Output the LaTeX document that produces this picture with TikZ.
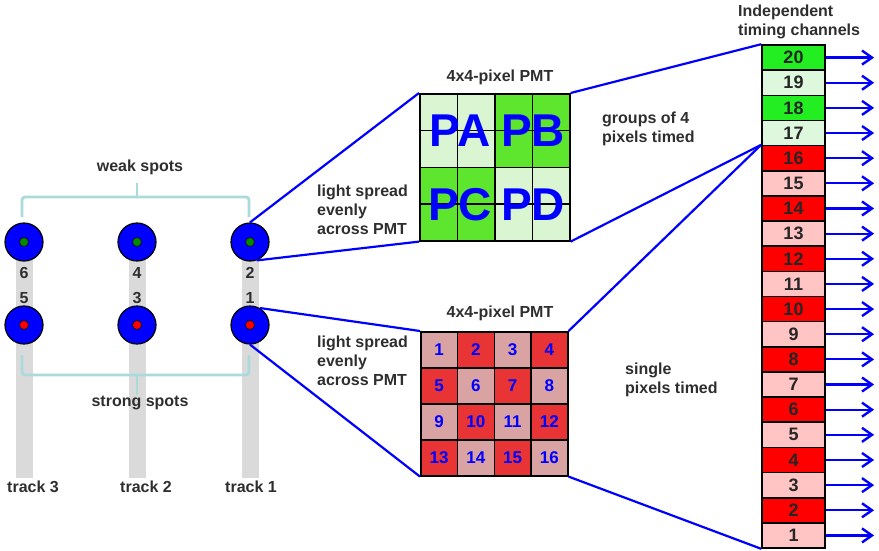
\documentclass[tikz,border=0pt]{standalone}
\usepackage{fontspec}
\setmainfont{Liberation Sans}
\usetikzlibrary{arrows.meta}
\definecolor{txt}{HTML}{2E2E2E}
\definecolor{lgreen}{HTML}{DAF5D2}
\definecolor{mgreen}{HTML}{5EE62E}
\definecolor{cgreen}{HTML}{22EE22}
\definecolor{cgreenl}{HTML}{DDF8DD}
\definecolor{pred}{HTML}{E83434}
\definecolor{ppink}{HTML}{D9A3A3}
\definecolor{cred}{HTML}{FF0000}
\definecolor{cpink}{HTML}{FFC4C4}
\definecolor{bracketc}{HTML}{AADADA}
\definecolor{trackgray}{HTML}{DADADA}
\definecolor{pblue}{HTML}{0000FF}
\definecolor{dotgreen}{HTML}{008C00}
\begin{document}
\begin{tikzpicture}[x=1pt,y=-1pt,
  lbl/.style={font=\bfseries\fontsize{16}{19}\selectfont, text=txt, inner sep=0, align=left},
  spot/.style={circle, draw=black, line width=1.2pt, fill=pblue, minimum size=38pt, inner sep=0},
  dot/.style={circle, draw=black, line width=0.6pt, minimum size=9pt, inner sep=0},
  gcell/.style={draw=black, line width=1.6pt, minimum width=37.5pt, minimum height=36.75pt, inner sep=0, anchor=north west},
  rcell/.style={draw=black, line width=1.6pt, minimum width=36.75pt, minimum height=36pt, inner sep=0, anchor=north west, font=\bfseries\fontsize{17}{17}\selectfont, text=pblue},
  chcell/.style={draw=black, line width=1.6pt, minimum width=63pt, minimum height=25.15pt, inner sep=0, font=\bfseries\fontsize{18}{18}\selectfont, text=black!85},
  big/.style={font=\bfseries\fontsize{46}{46}\selectfont, text=pblue, inner sep=0},
  link/.style={draw=pblue, line width=2.2pt},
  head/.style={draw=pblue, line width=2.4pt, line join=miter, line cap=butt},
  brk/.style={draw=bracketc, line width=2.8pt, rounded corners=3pt}
]
\useasboundingbox (0,0) rectangle (879,550);

% tracks
\foreach \x in {24,137,250} {
  \fill[trackgray] (\x-8.5,240) rectangle (\x+8.5,478);
}

% spots
\node[spot] (w3) at (24,242) {};
\node[spot] (w2) at (137,242) {};
\node[spot] (w1) at (250,242) {};
\node[spot] (s3) at (24,325) {};
\node[spot] (s2) at (137,325) {};
\node[spot] (s1) at (250,325) {};
\foreach \n in {w1,w2,w3} { \node[dot, fill=dotgreen] (d\n) at (\n) {}; }
\foreach \n in {s1,s2,s3} { \node[dot, fill=red] (d\n) at (\n) {}; }

% spot numbers
\node[lbl] (n6) at (24,273) {6};
\node[lbl] (n5) at (24,298) {5};
\node[lbl] (n4) at (137,273) {4};
\node[lbl] (n3) at (137,298) {3};
\node[lbl] (n2) at (250,273) {2};
\node[lbl] (n1) at (250,298) {1};

% brackets
\draw[brk] (22,217) -- (22,197) -- (249,197) -- (249,217);
\draw[brk] (137,197) -- (137,183);
\node[lbl] (weak) at (140,167) {weak spots};
\draw[brk] (22,355) -- (22,375) -- (249,375) -- (249,355);
\draw[brk] (137,375) -- (137,395);
\node[lbl] (strong) at (140,403) {strong spots};

% track labels
\node[lbl] (t3) at (33,487) {track 3};
\node[lbl] (t2) at (146,487) {track 2};
\node[lbl] (t1) at (251,487) {track 1};

% green PMT
\node[lbl] (gtitle) at (500,77) {4x4-pixel PMT};
\foreach \r in {1,...,4} {
  \foreach \c in {1,...,4} {
    \pgfmathtruncatemacro\isg{((\r<=2)&&(\c>=3))||((\r>=3)&&(\c<=2))}
    \ifnum\isg=1 \def\cc{mgreen}\else\def\cc{lgreen}\fi
    \node[gcell, fill=\cc] (g-\r-\c) at ({419+(\c-1)*37.5},{93+(\r-1)*36.75}) {};
  }
}
\node[big] (pa) at (460,131) {PA};
\node[big] (pb) at (533,131) {PB};
\node[big] (pc) at (460,204.5) {PC};
\node[big] (pd) at (533,204.5) {PD};

% red PMT
\node[lbl] (rtitle) at (500,313) {4x4-pixel PMT};
\foreach \r in {1,...,4} {
  \foreach \c in {1,...,4} {
    \pgfmathtruncatemacro\num{(\r-1)*4+\c}
    \pgfmathtruncatemacro\odd{mod(\r+\c,2)}
    \ifnum\odd=1 \def\cc{pred}\else\def\cc{ppink}\fi
    \node[rcell, fill=\cc] (r-\r-\c) at ({420+(\c-1)*36.75},{331+(\r-1)*36}) {\num};
  }
}

% channels
\node[lbl] (chtitle) at (738,21.5) [anchor=west] {Independent\\timing channels};
\foreach \k in {1,...,20} {
  \pgfmathsetmacro\yc{45+(20-\k)*25.15+12.575}
  \pgfmathtruncatemacro\ev{mod(\k,2)}
  \ifnum\k>16
    \ifnum\ev=0 \def\cc{cgreen}\else\def\cc{cgreenl}\fi
  \else
    \ifnum\ev=0 \def\cc{cred}\else\def\cc{cpink}\fi
  \fi
  \node[chcell, fill=\cc] (ch\k) at (793.5,\yc) {\k};
  \coordinate (a\k) at (872,\yc);
  \draw[link] (ch\k.east) -- (a\k);
  \draw[head] (a\k) ++(-10,-7) -- (a\k) -- ++(-10,7);
}

% texts
\node[lbl, anchor=west] (ls1) at (317,210) {light spread\\evenly\\across PMT};
\node[lbl, anchor=west] (ls2) at (317,361) {light spread\\evenly\\across PMT};
\node[lbl, anchor=west] (grp) at (602,128.5) {groups of 4\\pixels timed};
\node[lbl, anchor=west] (sgl) at (625,379.5) {single\\pixels timed};

% links
\draw[link] (w1.north) -- (g-1-1.north west);
\draw[link] (w1.-70) -- (g-4-1.south west);
\draw[link] (s1.60) -- (r-1-1.north west);
\draw[link] (s1.south) -- (r-4-1.south west);
\draw[link] (g-1-4.north east) -- (ch20.north west);
\draw[link] (g-4-4.south east) -- (ch16.north west);
\draw[link] (r-1-4.north east) -- (ch16.north west);
\draw[link] (r-4-4.south east) -- (ch1.south west);
\end{tikzpicture}
\end{document}
